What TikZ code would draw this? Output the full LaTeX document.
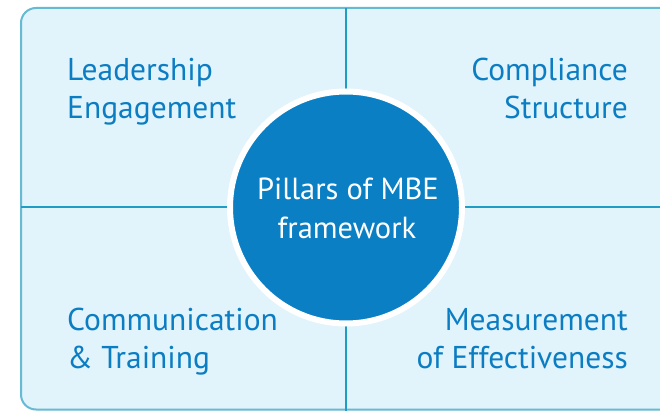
\documentclass[tikz,border=0pt]{standalone}
\usepackage{fontspec}
\setmainfont{PT Sans}
\definecolor{boxfill}{HTML}{E1F3FB}
\definecolor{boxline}{HTML}{66BAD3}
\definecolor{divline}{HTML}{1F9DC4}
\definecolor{circfill}{HTML}{0A7FC4}
\definecolor{txtblue}{HTML}{0B7DC3}
\begin{document}
\begin{tikzpicture}[x=1pt,y=-1pt,
  lbl/.style={inner sep=0pt,font=\fontsize{31.5}{38}\selectfont,text=txtblue},
  ctr/.style={inner sep=0pt,font=\fontsize{30.5}{37}\selectfont,text=white}]
\useasboundingbox (0,0) rectangle (660,411);
\fill[white] (0,0) rectangle (660,411);
\begin{scope}
\clip (0,0) rectangle (660,411);
\draw[boxline,line width=2pt,fill=boxfill,rounded corners=15pt] (21,8) rectangle (690,409.5);
\coordinate (vt) at (346,8);
\coordinate (vb) at (346,411);
\coordinate (hl) at (21,207);
\coordinate (hr) at (660,207);
\draw[divline,line width=2.2pt] (vt) -- (vb);
\draw[divline,line width=2.2pt] (hl) -- (hr);
\end{scope}
\node[circle,fill=circfill,draw=white,line width=6pt,minimum size=232pt,inner sep=0pt] (c) at (346,207.5) {};
\node[ctr,anchor=base] (c1) at (348,200) {Pillars of MBE};
\node[ctr,anchor=base] (c2) at (347,239) {framework};
\node[lbl,anchor=base west] (a1) at (67,81) {Leadership};
\node[lbl,anchor=base west] (a2) at (67,119) {Engagement};
\node[lbl,anchor=base east] (b1) at (628,81) {Compliance};
\node[lbl,anchor=base east] (b2) at (628,119) {Structure};
\node[lbl,anchor=base west] (d1) at (67,330) {Communication};
\node[lbl,anchor=base west] (d2) at (67,368) {\& Training};
\node[lbl,anchor=base east] (e1) at (628,330) {Measurement};
\node[lbl,anchor=base east] (e2) at (628,368) {of Effectiveness};
\end{tikzpicture}
\end{document}
